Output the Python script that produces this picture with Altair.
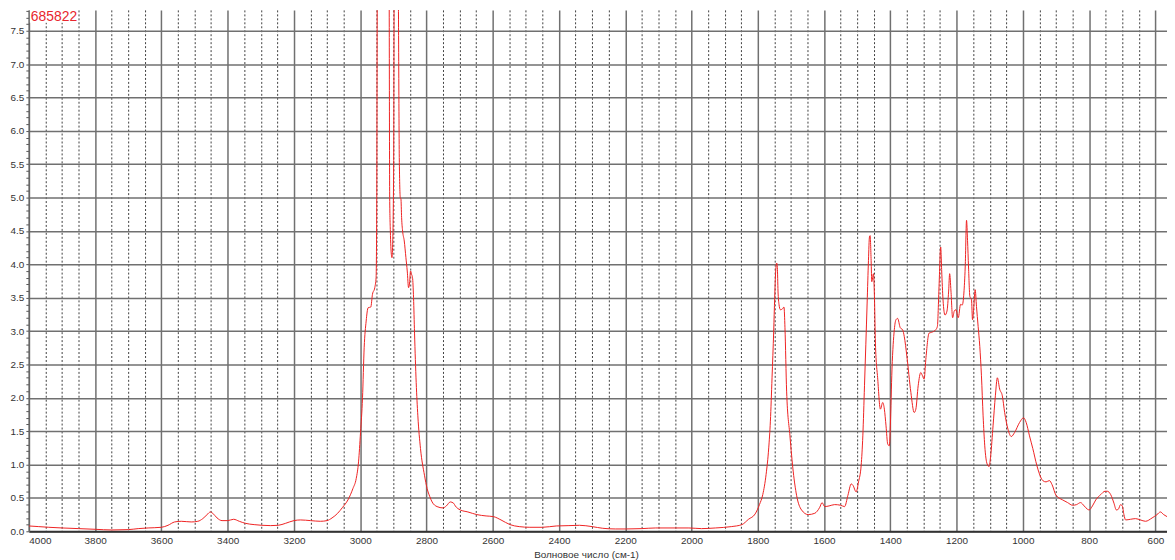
import altair as alt
import pandas as pd

# ---- data ----
wavenumber = [4000, 3970, 3940, 3900, 3850, 3800, 3750, 3700, 3670, 3640, 3600, 3580, 3560, 3540, 3510,
              3490, 3475, 3462, 3452, 3445, 3432, 3417, 3400, 3382, 3365, 3347, 3320, 3297, 3270, 3247,
              3225, 3200, 3180, 3150, 3120, 3100, 3085, 3068, 3053, 3037, 3022, 3012, 3005, 2999, 2993,
              2988, 2982, 2976, 2968, 2963, 2956, 2952, 2950, 2948, 2930, 2913, 2911, 2909, 2906, 2904,
              2902, 2899, 2897, 2886, 2882, 2879, 2877, 2875, 2872, 2867, 2862, 2858, 2854, 2851, 2848,
              2845, 2842, 2839, 2836, 2831, 2826, 2818, 2806, 2798, 2790, 2783, 2768, 2750, 2740, 2728,
              2718, 2713, 2698, 2675, 2648, 2620, 2598, 2575, 2548, 2520, 2488, 2450, 2408, 2370, 2338,
              2300, 2268, 2230, 2198, 2150, 2108, 2050, 2008, 1970, 1928, 1880, 1848, 1828, 1808, 1795,
              1785, 1775, 1767, 1762, 1757, 1752, 1749, 1746, 1743, 1741, 1739, 1736, 1732, 1726, 1721,
              1718, 1713, 1703, 1693, 1683, 1668, 1648, 1628, 1613, 1606, 1598, 1585, 1568, 1550, 1538,
              1528, 1518, 1513, 1503, 1496, 1488, 1483, 1478, 1470, 1466, 1463, 1461, 1458, 1456, 1451,
              1448, 1445, 1438, 1430, 1423, 1418, 1413, 1408, 1403, 1400, 1395, 1388, 1383, 1378, 1370,
              1363, 1358, 1350, 1338, 1328, 1323, 1316, 1308, 1303, 1298, 1293, 1283, 1276, 1263, 1258,
              1253, 1248, 1245, 1241, 1235, 1229, 1224, 1221, 1217, 1212, 1207, 1202, 1195, 1188, 1183,
              1178, 1174, 1170, 1167, 1164, 1160, 1155, 1152, 1148, 1144, 1140, 1135, 1130, 1125, 1120,
              1115, 1108, 1102, 1097, 1090, 1083, 1077, 1070, 1062, 1055, 1045, 1035, 1025, 1010, 998,
              990, 980, 970, 958, 950, 940, 930, 920, 912, 900, 880, 865, 850, 838, 826,
              815, 805, 800, 790, 780, 765, 752, 745, 735, 725, 718, 712, 705, 700, 695,
              690, 675, 660, 645, 630, 610, 595, 585, 575, 565]

absorbance = [0.08, 0.07, 0.06, 0.05, 0.04, 0.03, 0.02, 0.025, 0.04, 0.05, 0.06, 0.09, 0.14, 0.15, 0.14,
              0.15, 0.19, 0.25, 0.29, 0.27, 0.20, 0.16, 0.16, 0.18, 0.15, 0.12, 0.10, 0.09, 0.085, 0.09,
              0.12, 0.16, 0.17, 0.16, 0.15, 0.16, 0.20, 0.27, 0.36, 0.47, 0.64, 0.79, 1.04, 1.48, 2.0,
              2.75, 3.15, 3.35, 3.36, 3.55, 3.65, 3.8, 5.0, 8.6, 8.6, 8.6, 5.0, 4.5, 4.15, 4.1,
              4.3, 5.5, 8.6, 8.6, 5.6, 5.0, 4.98, 4.7, 4.5, 4.35, 4.1, 3.9, 3.65, 3.72, 3.9,
              3.85, 3.8, 3.5, 2.97, 2.23, 1.73, 1.24, 0.84, 0.64, 0.52, 0.44, 0.37, 0.35, 0.38, 0.44,
              0.42, 0.38, 0.32, 0.29, 0.25, 0.23, 0.22, 0.17, 0.10, 0.07, 0.06, 0.06, 0.08, 0.085, 0.09,
              0.07, 0.045, 0.035, 0.035, 0.04, 0.05, 0.05, 0.05, 0.04, 0.05, 0.07, 0.10, 0.18, 0.26, 0.40,
              0.55, 0.85, 1.25, 1.65, 2.3, 3.0, 3.5, 3.9, 4.02, 3.95, 3.6, 3.4, 3.32, 3.33, 3.36,
              3.05, 2.1, 1.43, 0.89, 0.54, 0.32, 0.25, 0.27, 0.36, 0.43, 0.37, 0.38, 0.40, 0.39, 0.37,
              0.54, 0.71, 0.69, 0.59, 0.74, 0.99, 1.43, 2.18, 3.42, 4.06, 4.41, 4.43, 4.06, 3.74, 3.86,
              3.52, 2.82, 2.28, 1.83, 1.93, 1.83, 1.58, 1.31, 1.28, 1.58, 2.43, 3.02, 3.17, 3.19, 3.05,
              3.02, 2.92, 2.62, 2.08, 1.78, 1.83, 2.18, 2.38, 2.33, 2.28, 2.57, 2.97, 2.98, 3.02, 3.07,
              3.67, 4.26, 3.9, 3.47, 3.24, 3.3, 3.6, 3.86, 3.6, 3.2, 3.3, 3.32, 3.2, 3.4, 3.39,
              3.57, 3.96, 4.66, 4.36, 3.96, 3.52, 3.47, 3.17, 3.37, 3.62, 3.37, 3.07, 2.77, 2.33, 1.73,
              1.28, 1.01, 0.97, 1.14, 1.58, 2.03, 2.30, 2.13, 2.03, 1.78, 1.53, 1.42, 1.48, 1.63, 1.70,
              1.63, 1.43, 1.24, 0.99, 0.86, 0.76, 0.74, 0.76, 0.70, 0.54, 0.47, 0.43, 0.39, 0.40, 0.43,
              0.38, 0.33, 0.32, 0.38, 0.47, 0.55, 0.60, 0.60, 0.55, 0.42, 0.32, 0.33, 0.40, 0.38, 0.25,
              0.17, 0.18, 0.19, 0.17, 0.15, 0.20, 0.25, 0.29, 0.25, 0.22]

x_ticks = list(range(4000, 550, -50))
y_ticks = [round(i * 0.1, 1) for i in range(0, 79)]
sample_label = ["685822"]
x_title = "Волновое число (см-1)"

df = pd.DataFrame({"wn": wavenumber, "a": absorbance})
lab = pd.DataFrame({"t": sample_label})

FONT = "Liberation Sans"
major_x = "datum.value % 200 == 0"
major_y = "abs(datum.value * 2 - round(datum.value * 2)) < 0.01"

x_axis = alt.Axis(
    values=x_ticks,
    labelExpr=f"{major_x} ? '' + datum.value : ''",
    labelOverlap=False,
    labelFont=FONT, labelFontSize=10, labelColor="#333333", labelPadding=4,
    ticks=False,
    domainColor="#333333", domainWidth=2,
    grid=True,
    gridColor={"condition": {"test": major_x, "value": "#707070"}, "value": "#404040"},
    gridWidth={"condition": {"test": major_x, "value": 1.5}, "value": 1},
    gridDash={"condition": {"test": major_x, "value": []}, "value": [2, 2]},
    title=x_title, titleFont=FONT, titleFontSize=10, titleFontWeight="normal",
    titleColor="#333333", titleX=561, titleY=23, titleBaseline="middle", titleAlign="center",
)

y_axis = alt.Axis(
    values=y_ticks,
    labelExpr=f"{major_y} ? format(datum.value, '.1f') : ''",
    labelOverlap=False,
    labelFont=FONT, labelFontSize=10, labelColor="#333333", labelPadding=2,
    tickSize=3, tickColor="#555555", tickWidth=1,
    domainColor="#666666", domainWidth=1.5,
    grid=True,
    gridColor="#707070", gridWidth=1.5,
    gridOpacity={"condition": {"test": major_y, "value": 1}, "value": 0},
    title=None,
)

line = alt.Chart(df).mark_line(
    color="#ee2222", strokeWidth=1, interpolate="monotone", clip=True
).encode(
    x=alt.X("wn:Q", scale=alt.Scale(domain=[4000, 565], nice=False, zero=False), axis=x_axis),
    y=alt.Y("a:Q", scale=alt.Scale(domain=[0, 7.8125], nice=False, zero=False), axis=y_axis),
    order=alt.Order("wn:Q", sort="descending"),
)

box = alt.Chart(lab).mark_rect(color="white").encode(
    x=alt.value(1), x2=alt.value(48), y=alt.value(0), y2=alt.value(13)
)

txt = alt.Chart(lab).mark_text(
    align="left", baseline="top", font=FONT, fontSize=14, color="#e8262e"
).encode(x=alt.value(2), y=alt.value(0), text="t:N")

chart = alt.layer(line, box, txt).properties(
    width=1146, height=525,
    autosize=alt.AutoSizeParams(type="none"),
    padding={"left": 21, "top": 0, "right": 0, "bottom": 27},
    background="white",
).configure_view(stroke=None)

chart.save("out.html", embed_options={"renderer": "svg", "actions": False})
